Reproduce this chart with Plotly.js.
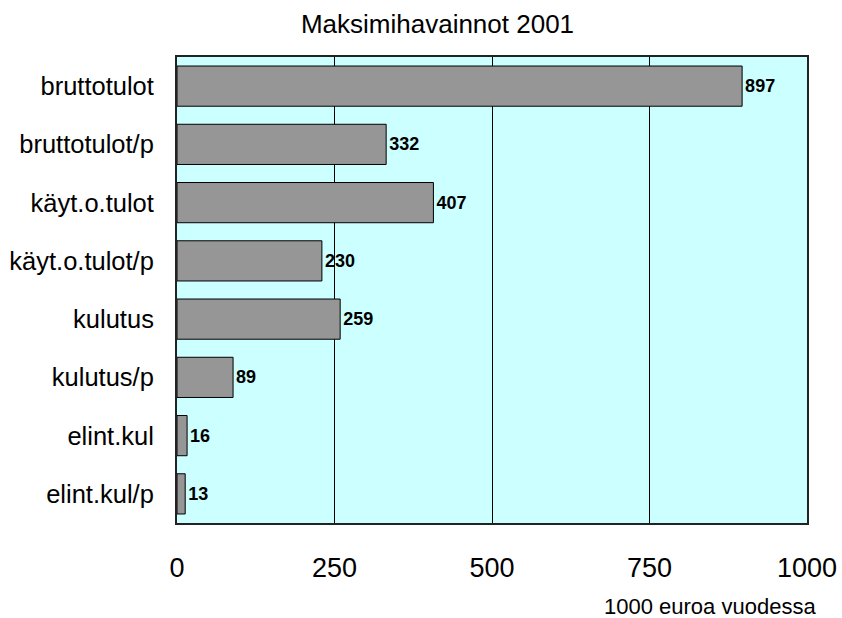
<!DOCTYPE html>
<html>
<head>
<meta charset="utf-8">
<script src="https://cdn.plot.ly/plotly-3.0.1.min.js"></script>
<style>html,body{margin:0;padding:0;background:#fff}#chart{width:842px;height:618px}</style>
</head>
<body>
<div id="chart"></div>
<script>
const categories = ["bruttotulot", "bruttotulot/p", "käyt.o.tulot", "käyt.o.tulot/p", "kulutus", "kulutus/p", "elint.kul", "elint.kul/p"];
const values = [897, 332, 407, 230, 259, 89, 16, 13];
const xTicks = [0, 250, 500, 750, 1000];
const titleText = "Maksimihavainnot 2001";
const unitText = "1000 euroa vuodessa";

const trace = {
  type: "bar",
  orientation: "h",
  y: categories,
  x: values,
  text: values.map(String),
  textposition: "outside",
  cliponaxis: false,
  textfont: {family: "Liberation Sans, Arial, sans-serif", size: 18, color: "#000"},
  texttemplate: "<b>%{text}</b>",
  marker: {color: "#969696", line: {color: "#000", width: 1}},
  hoverinfo: "none"
};

const layout = {
  width: 842, height: 618,
  margin: {l: 177, r: 35, t: 57, b: 95},
  paper_bgcolor: "#ffffff",
  plot_bgcolor: "#ccffff",
  bargap: 0.31,
  showlegend: false,
  font: {family: "Liberation Sans, Arial, sans-serif", color: "#000"},
  title: {text: titleText, font: {size: 26, color: "#000"}, x: 0.5196, xref: "container", xanchor: "center", y: 0.962, yref: "container", yanchor: "middle"},
  xaxis: {
    range: [0, 1000], tickvals: xTicks, ticktext: xTicks.map(String),
    showgrid: true, gridcolor: "#000", gridwidth: 1,
    zeroline: false,
    ticks: "outside", ticklen: 20, tickcolor: "rgba(0,0,0,0)",
    tickfont: {size: 27, color: "#000"},
    showline: true, mirror: true, linecolor: "#222", linewidth: 2,
    fixedrange: true
  },
  yaxis: {
    autorange: "reversed",
    showgrid: false, zeroline: false,
    ticks: "outside", ticklen: 16, tickcolor: "rgba(0,0,0,0)",
    tickfont: {size: 25.5, color: "#000"},
    showline: true, mirror: true, linecolor: "#222", linewidth: 2,
    fixedrange: true
  },
  annotations: [{
    text: unitText, xref: "paper", yref: "paper",
    x: 0.846, y: -0.180, xanchor: "center", yanchor: "middle",
    showarrow: false, font: {size: 22, color: "#000"}
  }]
};

Plotly.newPlot("chart", [trace], layout, {displayModeBar: false, staticPlot: true});
</script>
</body>
</html>
